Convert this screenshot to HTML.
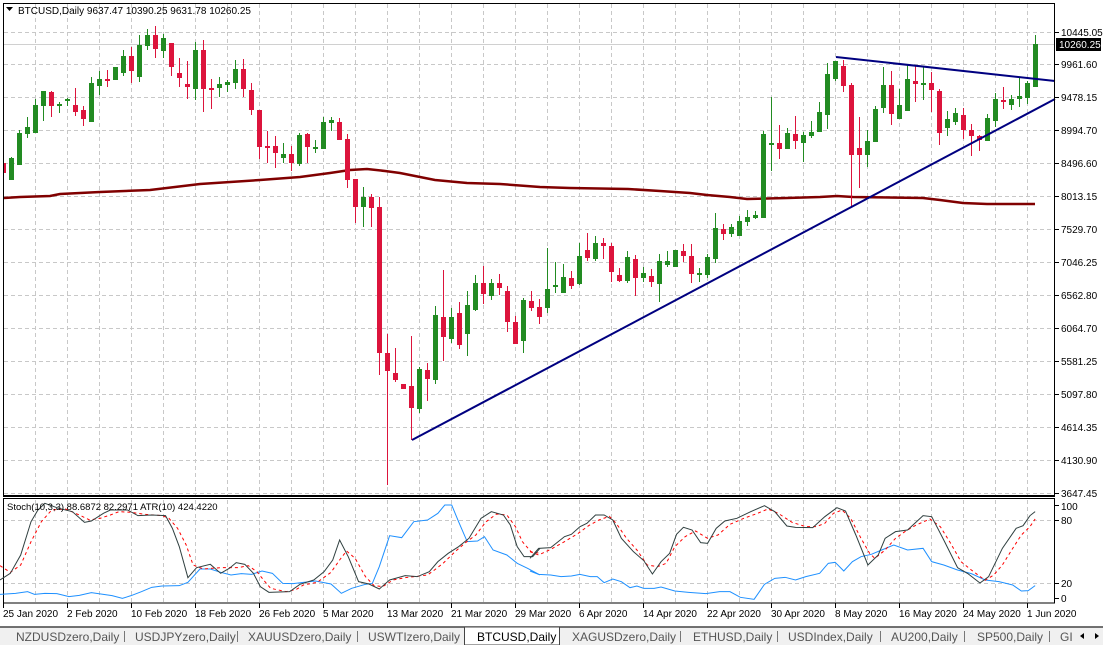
<!DOCTYPE html>
<html><head><meta charset="utf-8"><style>
body{margin:0;width:1103px;height:645px;overflow:hidden;background:#fff;font-family:"Liberation Sans",sans-serif}
svg{display:block}
</style></head><body>
<svg width="1103" height="645" viewBox="0 0 1103 645" xmlns="http://www.w3.org/2000/svg" font-family="Liberation Sans, sans-serif">
<rect width="1103" height="645" fill="#fff"/>
<!-- grid main -->
<g stroke="#c8c8c8" stroke-dasharray="4,3" stroke-width="1">
<path d="M35.5 4V495M67.5 4V495M99.5 4V495M131.5 4V495M163.5 4V495M195.5 4V495M227.5 4V495M259.5 4V495M291.5 4V495M323.5 4V495M355.5 4V495M387.5 4V495M419.5 4V495M451.5 4V495M483.5 4V495M515.5 4V495M547.5 4V495M579.5 4V495M611.5 4V495M643.5 4V495M675.5 4V495M707.5 4V495M739.5 4V495M771.5 4V495M803.5 4V495M835.5 4V495M867.5 4V495M899.5 4V495M931.5 4V495M963.5 4V495M995.5 4V495M1027.5 4V495"/>
<path d="M4 32.5H1055M4 64.5H1055M4 97.5H1055M4 130.5H1055M4 163.5H1055M4 196.5H1055M4 229.5H1055M4 262.5H1055M4 295.5H1055M4 328.5H1055M4 361.5H1055M4 394.5H1055M4 427.5H1055M4 460.5H1055M4 493.5H1055"/>
<path d="M35.5 500V603M67.5 500V603M99.5 500V603M131.5 500V603M163.5 500V603M195.5 500V603M227.5 500V603M259.5 500V603M291.5 500V603M323.5 500V603M355.5 500V603M387.5 500V603M419.5 500V603M451.5 500V603M483.5 500V603M515.5 500V603M547.5 500V603M579.5 500V603M611.5 500V603M643.5 500V603M675.5 500V603M707.5 500V603M739.5 500V603M771.5 500V603M803.5 500V603M835.5 500V603M867.5 500V603M899.5 500V603M931.5 500V603M963.5 500V603M995.5 500V603M1027.5 500V603"/>
<path d="M4 520.5H1055M4 583.5H1055"/>
</g>
<line x1="4" y1="44.5" x2="1055" y2="44.5" stroke="#d0d0d0"/>
<!-- MA -->
<polyline fill="none" stroke="#800000" stroke-width="2.5" points="4,198 20,197 50,196 60,194 100,192 150,190 200,184 260,180 300,177 330,173 350,170 367,169 385,171 400,173 435,180 467,183 500,184 540,187 570,188 628,189 660,191 690,193 707,195 730,197 747,199 787,198 820,197 837,196 853,197 923,198 940,200 963,203 987,204 1035,204"/>
<svg x="4" y="4" width="1051" height="491" viewBox="4 4 1051 491" overflow="hidden">
<g fill="#dc143c">
<path d="M3 160h1V177h-1zM1 163h5V173h-5z"/>
<path d="M51 91h1V117h-1zM49 92h5V106h-5z"/>
<path d="M75 88h1V116h-1zM73 105h5V112h-5z"/>
<path d="M83 106h1V126h-1zM81 110h5V119h-5z"/>
<path d="M107 70h1V87h-1zM105 79h5V81h-5z"/>
<path d="M131 47h1V83h-1zM129 56h5V71h-5z"/>
<path d="M155 26h1V58h-1zM153 35h5V49h-5z"/>
<path d="M171 43h1V76h-1zM169 43h5V67h-5z"/>
<path d="M179 58h1V87h-1zM177 73h5V78h-5z"/>
<path d="M187 61h1V99h-1zM185 84h5V87h-5z"/>
<path d="M203 40h1V112h-1zM201 50h5V89h-5z"/>
<path d="M211 79h1V109h-1zM209 88h5V90h-5z"/>
<path d="M243 59h1V97h-1zM241 69h5V89h-5z"/>
<path d="M251 83h1V115h-1zM249 90h5V110h-5z"/>
<path d="M259 110h1V159h-1zM257 110h5V147h-5z"/>
<path d="M267 131h1V163h-1zM265 146h5V148h-5z"/>
<path d="M275 136h1V168h-1zM273 146h5V153h-5z"/>
<path d="M291 146h1V171h-1zM289 154h5V163h-5z"/>
<path d="M307 133h1V163h-1zM305 134h5V147h-5z"/>
<path d="M339 118h1V140h-1zM337 122h5V140h-5z"/>
<path d="M347 134h1V188h-1zM345 139h5V180h-5z"/>
<path d="M355 179h1V223h-1zM353 179h5V207h-5z"/>
<path d="M371 194h1V227h-1zM369 197h5V208h-5z"/>
<path d="M379 197h1V375h-1zM377 207h5V353h-5z"/>
<path d="M387 334h1V485h-1zM385 353h5V371h-5z"/>
<path d="M395 348h1V382h-1zM393 373h5V380h-5z"/>
<path d="M401 384h5V389h-5z"/>
<path d="M411 336h1V440h-1zM409 386h5V408h-5z"/>
<path d="M427 363h1V401h-1zM425 370h5V379h-5z"/>
<path d="M443 270h1V361h-1zM441 317h5V337h-5z"/>
<path d="M459 302h1V349h-1zM457 313h5V345h-5z"/>
<path d="M483 266h1V304h-1zM481 283h5V294h-5z"/>
<path d="M499 274h1V295h-1zM497 283h5V288h-5z"/>
<path d="M507 286h1V332h-1zM505 291h5V322h-5z"/>
<path d="M515 316h1V344h-1zM513 322h5V344h-5z"/>
<path d="M531 291h1V311h-1zM529 301h5V308h-5z"/>
<path d="M539 299h1V324h-1zM537 307h5V317h-5z"/>
<path d="M571 271h1V289h-1zM569 278h5V286h-5z"/>
<path d="M587 233h1V261h-1zM585 250h5V258h-5z"/>
<path d="M603 238h1V259h-1zM601 243h5V246h-5z"/>
<path d="M611 243h1V282h-1zM609 246h5V272h-5z"/>
<path d="M619 268h1V282h-1zM617 275h5V281h-5z"/>
<path d="M635 255h1V296h-1zM633 259h5V278h-5z"/>
<path d="M651 269h1V287h-1zM649 276h5V282h-5z"/>
<path d="M683 244h1V262h-1zM681 251h5V256h-5z"/>
<path d="M691 244h1V283h-1zM689 256h5V274h-5z"/>
<path d="M723 224h1V240h-1zM721 229h5V234h-5z"/>
<path d="M779 125h1V159h-1zM777 143h5V149h-5z"/>
<path d="M795 116h1V149h-1zM793 134h5V141h-5z"/>
<path d="M843 60h1V92h-1zM841 66h5V86h-5z"/>
<path d="M851 83h1V207h-1zM849 85h5V155h-5z"/>
<path d="M859 117h1V188h-1zM857 148h5V155h-5z"/>
<path d="M891 71h1V125h-1zM889 85h5V114h-5z"/>
<path d="M915 65h1V102h-1zM913 81h5V84h-5z"/>
<path d="M931 72h1V112h-1zM929 83h5V90h-5z"/>
<path d="M939 89h1V145h-1zM937 91h5V133h-5z"/>
<path d="M963 108h1V139h-1zM961 115h5V130h-5z"/>
<path d="M971 124h1V156h-1zM969 130h5V136h-5z"/>
<path d="M979 135h1V151h-1zM977 136h5V140h-5z"/>
<path d="M1003 87h1V109h-1zM1001 100h5V102h-5z"/>
</g>
<g fill="#228b22">
<path d="M11 157h1V180h-1zM9 158h5V180h-5z"/>
<path d="M19 130h1V165h-1zM17 133h5V165h-5z"/>
<path d="M27 117h1V138h-1zM25 127h5V134h-5z"/>
<path d="M35 99h1V133h-1zM33 105h5V133h-5z"/>
<path d="M43 91h1V121h-1zM41 91h5V106h-5z"/>
<path d="M59 102h1V113h-1zM57 104h5V106h-5z"/>
<path d="M67 98h1V106h-1zM65 99h5V101h-5z"/>
<path d="M91 77h1V122h-1zM89 83h5V122h-5z"/>
<path d="M99 71h1V95h-1zM97 79h5V86h-5z"/>
<path d="M115 67h1V80h-1zM113 67h5V80h-5z"/>
<path d="M123 50h1V76h-1zM121 56h5V73h-5z"/>
<path d="M139 35h1V82h-1zM137 45h5V77h-5z"/>
<path d="M147 29h1V50h-1zM145 35h5V46h-5z"/>
<path d="M163 34h1V58h-1zM161 38h5V51h-5z"/>
<path d="M195 42h1V100h-1zM193 50h5V89h-5z"/>
<path d="M219 77h1V97h-1zM217 84h5V88h-5z"/>
<path d="M227 80h1V92h-1zM225 82h5V85h-5z"/>
<path d="M235 60h1V89h-1zM233 69h5V83h-5z"/>
<path d="M283 143h1V163h-1zM281 154h5V158h-5z"/>
<path d="M299 133h1V166h-1zM297 135h5V164h-5z"/>
<path d="M315 140h1V153h-1zM313 147h5V149h-5z"/>
<path d="M323 117h1V149h-1zM321 122h5V149h-5z"/>
<path d="M331 117h1V131h-1zM329 120h5V123h-5z"/>
<path d="M363 187h1V227h-1zM361 197h5V207h-5z"/>
<path d="M419 367h1V413h-1zM417 369h5V409h-5z"/>
<path d="M435 306h1V384h-1zM433 315h5V380h-5z"/>
<path d="M451 308h1V343h-1zM449 317h5V339h-5z"/>
<path d="M467 291h1V356h-1zM465 305h5V334h-5z"/>
<path d="M475 275h1V311h-1zM473 283h5V310h-5z"/>
<path d="M491 279h1V300h-1zM489 283h5V296h-5z"/>
<path d="M523 298h1V353h-1zM521 300h5V341h-5z"/>
<path d="M547 248h1V313h-1zM545 289h5V308h-5z"/>
<path d="M555 262h1V293h-1zM553 285h5V287h-5z"/>
<path d="M563 264h1V293h-1zM561 277h5V293h-5z"/>
<path d="M579 243h1V285h-1zM577 256h5V284h-5z"/>
<path d="M595 236h1V261h-1zM593 243h5V259h-5z"/>
<path d="M627 251h1V283h-1zM625 257h5V281h-5z"/>
<path d="M643 267h1V282h-1zM641 273h5V278h-5z"/>
<path d="M659 254h1V302h-1zM657 261h5V284h-5z"/>
<path d="M667 251h1V267h-1zM665 261h5V265h-5z"/>
<path d="M675 250h1V267h-1zM673 250h5V267h-5z"/>
<path d="M699 268h1V282h-1zM697 273h5V275h-5z"/>
<path d="M707 254h1V278h-1zM705 257h5V275h-5z"/>
<path d="M715 213h1V263h-1zM713 228h5V259h-5z"/>
<path d="M731 224h1V237h-1zM729 227h5V234h-5z"/>
<path d="M739 216h1V236h-1zM737 221h5V236h-5z"/>
<path d="M747 210h1V226h-1zM745 217h5V222h-5z"/>
<path d="M755 211h1V219h-1zM753 215h5V218h-5z"/>
<path d="M763 131h1V218h-1zM761 134h5V218h-5z"/>
<path d="M771 97h1V171h-1zM769 143h5V145h-5z"/>
<path d="M787 128h1V149h-1zM785 133h5V149h-5z"/>
<path d="M803 132h1V162h-1zM801 135h5V143h-5z"/>
<path d="M811 121h1V138h-1zM809 132h5V136h-5z"/>
<path d="M819 102h1V132h-1zM817 112h5V132h-5z"/>
<path d="M827 63h1V129h-1zM825 74h5V115h-5z"/>
<path d="M835 61h1V81h-1zM833 61h5V79h-5z"/>
<path d="M867 130h1V167h-1zM865 141h5V155h-5z"/>
<path d="M875 106h1V142h-1zM873 109h5V142h-5z"/>
<path d="M883 67h1V113h-1zM881 85h5V108h-5z"/>
<path d="M899 89h1V119h-1zM897 105h5V119h-5z"/>
<path d="M907 65h1V111h-1zM905 79h5V111h-5z"/>
<path d="M923 67h1V100h-1zM921 83h5V85h-5z"/>
<path d="M947 111h1V136h-1zM945 119h5V128h-5z"/>
<path d="M955 108h1V125h-1zM953 113h5V122h-5z"/>
<path d="M987 114h1V141h-1zM985 118h5V141h-5z"/>
<path d="M995 93h1V127h-1zM993 99h5V121h-5z"/>
<path d="M1011 95h1V110h-1zM1009 99h5V105h-5z"/>
<path d="M1019 78h1V107h-1zM1017 96h5V99h-5z"/>
<path d="M1027 81h1V104h-1zM1025 83h5V98h-5z"/>
<path d="M1035 35h1V87h-1zM1033 44h5V87h-5z"/>
</g>
</svg>
<!-- trendlines -->
<line x1="412" y1="440" x2="1055" y2="99" stroke="#000080" stroke-width="2"/>
<line x1="836" y1="57" x2="1055" y2="81" stroke="#000080" stroke-width="2"/>
<!-- frames -->
<rect x="3.5" y="3.5" width="1051" height="492" fill="none" stroke="#000"/>
<line x1="3" y1="496.5" x2="1055" y2="496.5" stroke="#000"/>
<rect x="3.5" y="498.5" width="1051" height="104.5" fill="none" stroke="#000"/>
<!-- price axis -->
<g stroke="#000"><path d="M1055 32.5h4M1055 64.5h4M1055 97.5h4M1055 130.5h4M1055 163.5h4M1055 196.5h4M1055 229.5h4M1055 262.5h4M1055 295.5h4M1055 328.5h4M1055 361.5h4M1055 394.5h4M1055 427.5h4M1055 460.5h4M1055 493.5h4M1055 505.5h4M1055 520.5h4M1055 583.5h4M1055 598.5h4"/></g>
<g font-size="10" fill="#000">
<text x="1061" y="36">10445.05</text><text x="1061" y="68">9961.60</text><text x="1061" y="101">9478.15</text><text x="1061" y="134">8994.70</text><text x="1061" y="167">8496.60</text><text x="1061" y="200">8013.15</text><text x="1061" y="233">7529.70</text><text x="1061" y="266">7046.25</text><text x="1061" y="299">6562.80</text><text x="1061" y="332">6064.70</text><text x="1061" y="365">5581.25</text><text x="1061" y="398">5097.80</text><text x="1061" y="431">4614.35</text><text x="1061" y="464">4130.90</text><text x="1061" y="497">3647.45</text>
<text x="1061" y="510">100</text><text x="1061" y="524">80</text><text x="1061" y="587">20</text><text x="1061" y="602">0</text>
</g>
<rect x="1056" y="38" width="45" height="13" fill="#000"/>
<text x="1059" y="48" font-size="10" fill="#fff">10260.25</text>
<!-- title -->
<path d="M6 7h7l-3.5 4z" fill="#000"/>
<text x="18" y="14" font-size="10" fill="#000">BTCUSD,Daily  9637.47 10390.25 9631.78 10260.25</text>
<!-- indicator -->
<g fill="none" stroke-width="1">
<g transform="translate(0,495) scale(0.3448,0.3333)">
<polyline stroke="#1e90ff" vector-effect="non-scaling-stroke" points="0,298 45,295 80,290 100,298 130,295 165,296 200,305 230,301 265,293 300,298 325,302 355,310 380,302 410,290 440,277 470,273 520,272 545,262 580,222 610,222 640,232 670,240 700,236 730,238 760,228 790,235 820,265 850,266 880,262 915,258 960,267 990,295 1020,280 1060,268 1080,265 1100,215 1130,122 1165,128 1200,80 1240,75 1270,55 1290,30 1310,30 1330,80 1355,140 1385,138 1405,125 1430,165 1470,180 1500,205 1530,220 1566,240"/>
<polyline stroke="#ff0000" stroke-dasharray="3,3" vector-effect="non-scaling-stroke" points="0,212 30,232 60,210 90,140 120,80 150,45 190,42 230,60 260,75 290,70 320,60 345,50 380,52 420,58 470,62 490,70 515,100 540,150 560,210 590,222 640,218 690,218 720,212 745,230 770,262 785,280 830,290 860,283 880,270 920,262 960,232 985,195 1005,168 1030,190 1060,245 1085,272 1110,275 1140,255 1175,248 1210,244 1240,240 1260,225 1285,205 1320,170 1350,143 1380,120 1410,80 1440,57 1470,60 1495,95 1515,140 1540,170 1566,175"/>
<polyline stroke="#2f3f3f" vector-effect="non-scaling-stroke" points="0,255 30,235 60,180 90,80 110,45 130,25 170,40 210,50 245,82 265,78 300,55 320,45 345,45 370,45 400,62 440,60 480,62 500,100 520,155 545,248 570,218 610,208 640,235 665,220 685,203 710,208 735,235 755,275 780,292 840,290 870,268 910,255 940,230 965,195 985,135 1010,185 1040,260 1070,267 1100,282 1130,255 1175,242 1210,245 1245,230 1270,200 1300,175 1330,155 1360,130 1395,70 1425,50 1460,60 1480,90 1500,155 1520,185 1545,185 1566,160"/>
</g>
<g transform="translate(530,495) scale(0.3448,0.3333)">
<polyline stroke="#1e90ff" vector-effect="non-scaling-stroke" points="0,228 25,238 60,240 90,245 120,243 145,238 175,245 195,245 215,263 240,252 265,260 290,278 310,273 330,280 360,280 380,276 420,288 460,292 510,296 550,290 580,290 610,307 650,313 680,268 710,250 740,247 770,255 800,245 840,235 865,205 885,202 910,228 935,200 960,185 990,178 1020,165 1055,150 1095,165 1140,160 1165,200 1200,210 1240,225 1280,236 1320,255 1360,260 1400,270 1425,288 1445,287 1465,272"/>
<polyline stroke="#ff0000" stroke-dasharray="3,3" vector-effect="non-scaling-stroke" points="0,170 25,180 60,163 100,140 140,115 170,92 200,75 230,64 250,85 280,130 310,165 340,210 370,215 395,205 420,155 450,125 480,108 515,130 545,120 580,88 620,70 660,55 690,42 720,55 760,82 800,95 830,95 855,85 880,55 905,45 930,70 960,130 985,175 1000,190 1030,165 1060,130 1090,108 1120,90 1160,72 1190,95 1220,145 1250,200 1280,225 1320,256 1345,240 1370,210 1400,160 1425,120 1450,95 1465,72"/>
<polyline stroke="#2f3f3f" vector-effect="non-scaling-stroke" points="0,190 25,160 60,158 100,125 120,118 145,95 165,85 190,60 215,60 240,75 265,130 300,170 330,197 355,237 380,200 405,175 425,118 445,97 470,105 495,143 515,145 540,100 565,78 600,70 640,50 680,32 710,50 745,93 770,97 820,98 855,65 890,38 915,48 945,120 980,210 1010,180 1030,130 1060,110 1095,105 1140,62 1165,65 1200,135 1240,218 1270,236 1305,264 1330,245 1370,160 1410,100 1430,92 1450,62 1465,50"/>
</g>
</g>
<text x="7" y="510" font-size="9.5" fill="#000">Stoch(10,3,3) 88.6872 82.2971  ATR(10) 424.4220</text>
<!-- date axis -->
<g stroke="#000"><path d="M3.5 603v5M67.5 603v5M131.5 603v5M195.5 603v5M259.5 603v5M323.5 603v5M387.5 603v5M451.5 603v5M515.5 603v5M579.5 603v5M643.5 603v5M707.5 603v5M771.5 603v5M835.5 603v5M899.5 603v5M963.5 603v5M1027.5 603v5"/></g>
<g font-size="10" fill="#000">
<text x="3" y="617">25 Jan 2020</text><text x="67" y="617">2 Feb 2020</text><text x="131" y="617">10 Feb 2020</text><text x="195" y="617">18 Feb 2020</text><text x="259" y="617">26 Feb 2020</text><text x="323" y="617">5 Mar 2020</text><text x="387" y="617">13 Mar 2020</text><text x="451" y="617">21 Mar 2020</text><text x="515" y="617">29 Mar 2020</text><text x="579" y="617">6 Apr 2020</text><text x="643" y="617">14 Apr 2020</text><text x="707" y="617">22 Apr 2020</text><text x="771" y="617">30 Apr 2020</text><text x="835" y="617">8 May 2020</text><text x="899" y="617">16 May 2020</text><text x="963" y="617">24 May 2020</text><text x="1027" y="617">1 Jun 2020</text>
</g>
<!-- tabs -->
<rect x="0" y="627" width="1103" height="18" fill="#f0f0f0"/>
<line x1="0" y1="627" x2="1103" y2="627" stroke="#444" stroke-width="1.5"/>
<rect x="464.5" y="627" width="95" height="18" fill="#fff" stroke="#444"/>
<g font-size="12" fill="#555">
<text x="16" y="641">NZDUSDzero,Daily</text><text x="135" y="641">USDJPYzero,Daily</text><text x="248" y="641">XAUUSDzero,Daily</text><text x="368" y="641">USWTIzero,Daily</text>
<text x="477" y="641" fill="#000">BTCUSD,Daily</text>
<text x="572" y="641">XAGUSDzero,Daily</text><text x="693" y="641">ETHUSD,Daily</text><text x="788" y="641">USDIndex,Daily</text><text x="891" y="641">AU200,Daily</text><text x="977" y="641">SP500,Daily</text><text x="1060" y="641">GI</text>
</g>
<g stroke="#777"><path d="M124.5 631v11M237.5 631v11M357.5 631v11M680.5 631v11M777.5 631v11M880.5 631v11M964.5 631v11M1049.5 631v11"/></g>
<rect x="1072" y="628" width="31" height="17" fill="#f0f0f0"/>
<path d="M1080 636l4-3v6zM1099 636l-4-3v6z" fill="#000"/>
</svg>
</body></html>
